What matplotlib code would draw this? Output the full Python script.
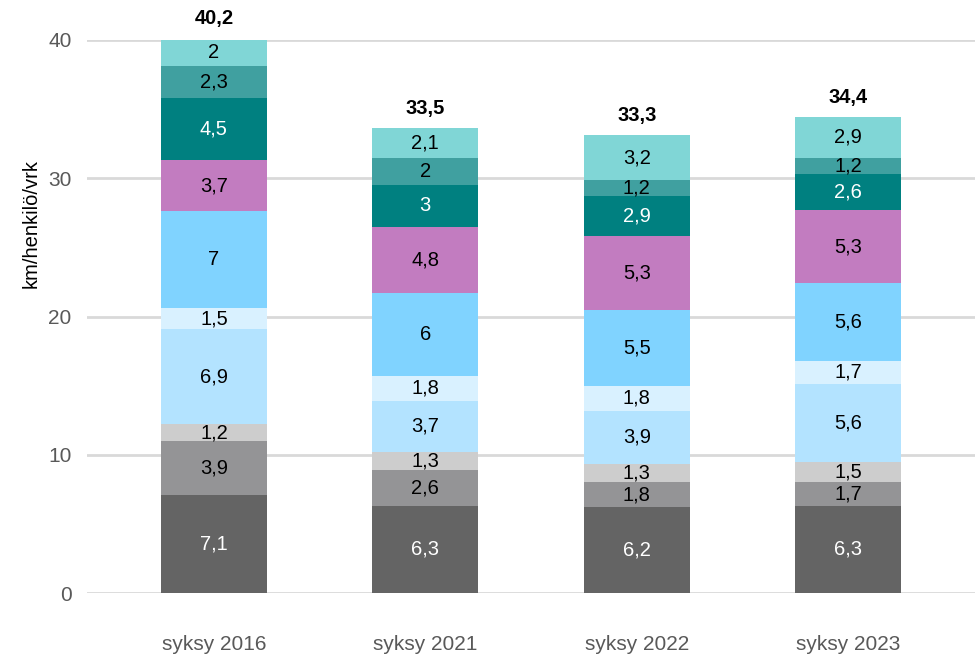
import numpy as np
import matplotlib
matplotlib.use('Agg')
import matplotlib.pyplot as plt

plt.rcParams['font.family'] = ['Liberation Sans', 'DejaVu Sans']

# data, bottom segment first
periods = ['syksy 2016', 'syksy 2021', 'syksy 2022', 'syksy 2023']
seg1 = [7.1, 6.3, 6.2, 6.3]
seg2 = [3.9, 2.6, 1.8, 1.7]
seg3 = [1.2, 1.3, 1.3, 1.5]
seg4 = [6.9, 3.7, 3.9, 5.6]
seg5 = [1.5, 1.8, 1.8, 1.7]
seg6 = [7, 6, 5.5, 5.6]
seg7 = [3.7, 4.8, 5.3, 5.3]
seg8 = [4.5, 3, 2.9, 2.6]
seg9 = [2.3, 2, 1.2, 1.2]
seg10 = [2, 2.1, 3.2, 2.9]
totals = [40.2, 33.5, 33.3, 34.4]
y_ticks = [0, 10, 20, 30, 40]

segments = [seg1, seg2, seg3, seg4, seg5, seg6, seg7, seg8, seg9, seg10]
colors = ['#646464', '#949496', '#cdcdcd', '#b3e3ff', '#d9f1ff',
          '#80d3ff', '#c27cc0', '#008080', '#40a0a0', '#80d6d6']
text_colors = ['white', 'black', 'black', 'black', 'black',
               'black', 'black', 'white', 'black', 'black']


def fmt(v):
    s = ('%.1f' % v).rstrip('0').rstrip('.')
    return s.replace('.', ',')


fig = plt.figure(figsize=(9.8, 6.6), dpi=100)
ax = fig.add_axes([0.0888, 0.1015, 0.9061, 0.8379])

x = np.arange(len(periods))
bottom = np.zeros(len(periods))
for seg, col, tcol in zip(segments, colors, text_colors):
    vals = np.array(seg, dtype=float)
    ax.bar(x, vals, width=0.5, bottom=bottom, color=col, zorder=3)
    for i in range(len(x)):
        ax.text(x[i], bottom[i] + vals[i] / 2, fmt(vals[i]), ha='center',
                va='center', fontsize=14.5, color=tcol, zorder=4)
    bottom += vals

for i in range(len(x)):
    ax.annotate(fmt(totals[i]), (x[i], bottom[i]), xytext=(0, 14.5),
                textcoords='offset points', ha='center', va='center',
                fontsize=14.5, fontweight='bold', color='black',
                annotation_clip=False)

ax.set_xlim(-0.6, 3.6)
ax.set_ylim(0, 40)
ax.set_yticks(y_ticks)
ax.set_xticks(x)
ax.set_xticklabels(periods)
ax.tick_params(axis='y', length=0, pad=11, labelsize=15, labelcolor='#595959')
ax.tick_params(axis='x', length=0, pad=30, labelsize=15, labelcolor='#595959')
ax.grid(axis='y', color='#d9d9d9', linewidth=2, zorder=0)
for sp in ax.spines.values():
    sp.set_visible(False)

ax.set_ylabel('km/henkilö/vrk', fontsize=14.5, color='black')
ax.yaxis.set_label_coords(-0.052, 0.669)

fig.savefig('out.png', dpi=100)
